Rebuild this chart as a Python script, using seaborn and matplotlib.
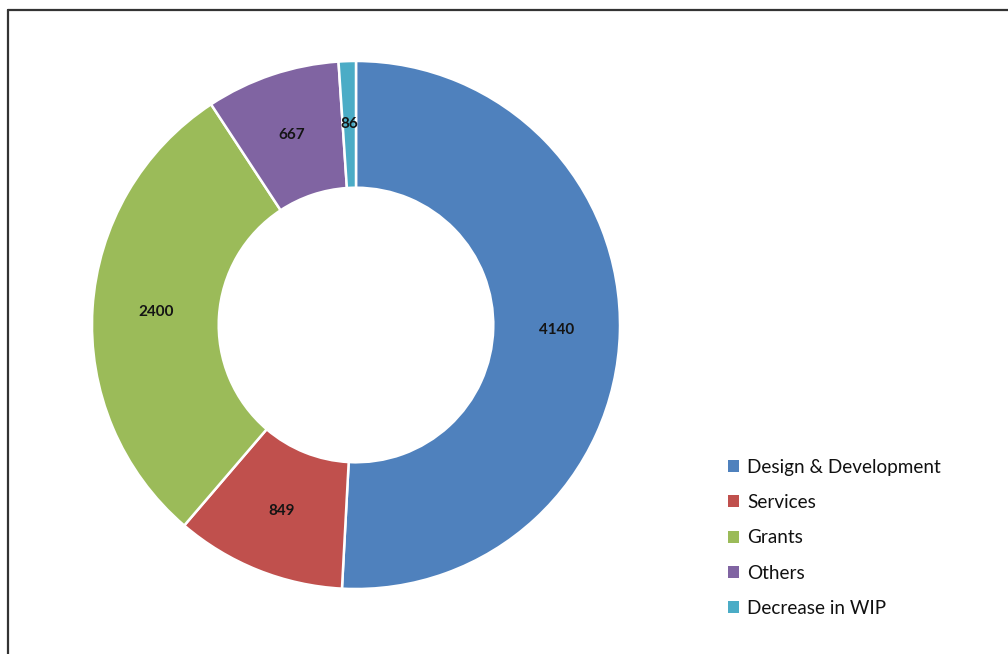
import matplotlib
matplotlib.use("Agg")
import matplotlib.pyplot as plt
from matplotlib.lines import Line2D
import numpy as np
import seaborn as sns

# Revenue breakdown
categories = ["Design & Development", "Services", "Grants", "Others", "Decrease in WIP"]
values = [4140, 849, 2400, 667, 86]
colors = ["#4F81BD", "#C0504D", "#9BBB59", "#8064A2", "#4BACC6"]

sns.set_theme(style="white")
sns.set_palette(colors)
plt.rcParams["font.family"] = ["Lato", "DejaVu Sans"]

W, H = 1008, 654
fig = plt.figure(figsize=(W / 100, H / 100), dpi=100)
fig.patch.set_facecolor("white")

# Donut axes: centre (356, 325) px, outer radius 264 px
cx, cy, r = 356, 325, 264
ax = fig.add_axes([(cx - r) / W, (H - cy - r) / H, 2 * r / W, 2 * r / H])

ring = 0.48
wedges, _ = ax.pie(
    values,
    colors=sns.color_palette(colors),
    startangle=90,
    counterclock=False,
    radius=1.0,
    wedgeprops=dict(width=ring, edgecolor="white", linewidth=1.8),
)
ax.set_xlim(-1, 1)
ax.set_ylim(-1, 1)
ax.set_aspect("equal")
ax.axis("off")

# Value labels at the middle of each ring segment
label_r = 1.0 - ring / 2
for w, v in zip(wedges, values):
    ang = np.deg2rad((w.theta1 + w.theta2) / 2)
    ax.text(label_r * np.cos(ang), label_r * np.sin(ang), f"{v}",
            ha="center", va="center", fontsize=11, fontweight="bold",
            color="#141414")

# Legend
handles = [plt.Rectangle((0, 0), 1, 1, facecolor=c, edgecolor="none") for c in colors]
fig.legend(handles, categories, loc="upper left",
           bbox_to_anchor=(720 / W, 1 - 451 / H),
           frameon=False, fontsize=13.6, handlelength=0.6, handleheight=0.6,
           handletextpad=0.45, labelspacing=0.97, borderaxespad=0,
           labelcolor="#111111")

# Frame lines along top and left edges
fig.add_artist(Line2D([8 / W, 1], [1 - 10 / H, 1 - 10 / H], transform=fig.transFigure,
                      color="#333333", linewidth=1.6))
fig.add_artist(Line2D([8 / W, 8 / W], [0, 1 - 10 / H], transform=fig.transFigure,
                      color="#333333", linewidth=1.6))

fig.savefig("out.png", dpi=100, facecolor="white")
